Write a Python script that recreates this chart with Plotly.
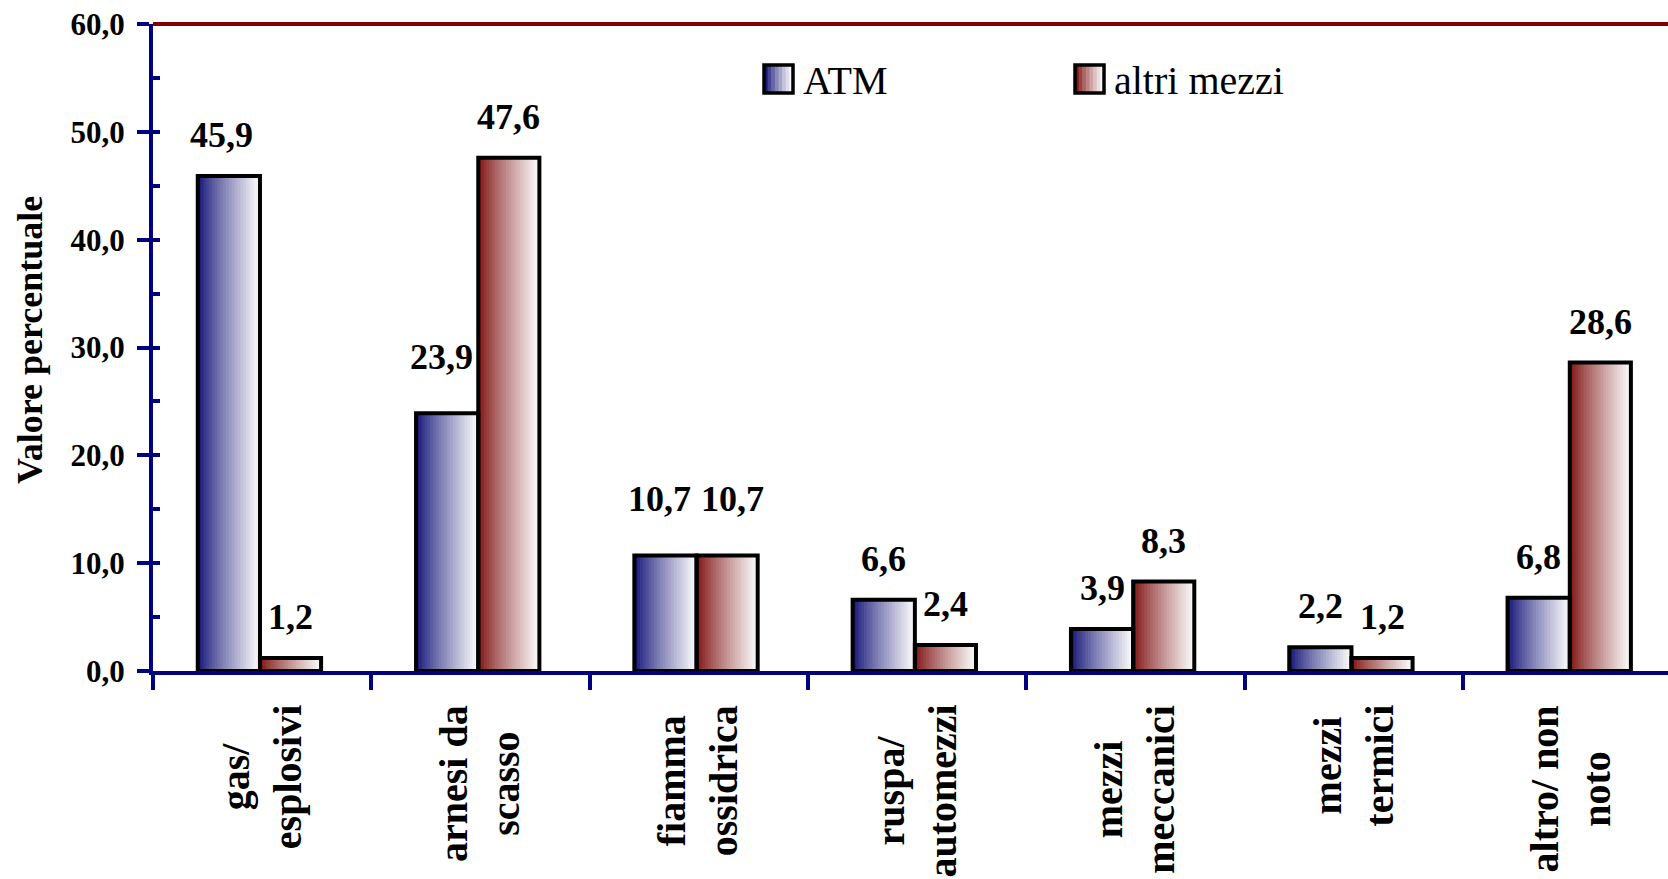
import plotly.graph_objects as go

# dati
categorie = ["gas/ esplosivi", "arnesi da scasso", "fiamma ossidrica", "ruspa/ automezzi",
             "mezzi meccanici", "mezzi termici", "altro/ non noto"]
etichette = ["gas/<br>esplosivi", "arnesi da<br>scasso", "fiamma<br>ossidrica", "ruspa/<br>automezzi",
             "mezzi<br>meccanici", "mezzi<br>termici", "altro/ non<br>noto"]
atm = [45.9, 23.9, 10.7, 6.6, 3.9, 2.2, 6.8]
altri_mezzi = [1.2, 47.6, 10.7, 2.4, 8.3, 1.2, 28.6]
serie = [("ATM", atm), ("altri mezzi", altri_mezzi)]
tick_y = [0, 10, 20, 30, 40, 50, 60]

W, H = 1668, 879
L, T, B = 153, 24, 208
plot_w = W - L
plot_h = H - T - B
cat_px = 218.3

FONT = "Liberation Serif, Times New Roman, serif"
NAVY = "#000080"
stile = {
    "ATM": {"start": (24, 24, 122), "offset": -0.295, "width": 0.285},
    "altri mezzi": {"start": (130, 22, 22), "offset": -0.01, "width": 0.28},
}
N_STRISCE = 22

# piccoli spostamenti (px) delle etichette che nell'originale sono scostate
spostamenti = {
    ("ATM", "gas/ esplosivi"): (-7, 0),
    ("ATM", "arnesi da scasso"): (-6, 15),
    ("ATM", "fiamma ossidrica"): (-6, 16),
    ("altri mezzi", "fiamma ossidrica"): (5, 16),
}


def sfuma(start, t):
    t = t ** 0.85
    c = [round(s + (250 - s) * t) for s in start]
    return f"rgb({c[0]},{c[1]},{c[2]})"


def px_x(px):
    return (px - L) / plot_w


def px_y(py):
    return (H - B - py) / plot_h


fig = go.Figure()

# riempimento sfumato: strisce verticali sovrapposte
for nome, valori in serie:
    s = stile[nome]
    passo = s["width"] / N_STRISCE
    for k in range(N_STRISCE):
        fig.add_trace(go.Bar(
            x=categorie, y=valori,
            offset=s["offset"] + k * passo,
            width=passo * (1.5 if k < N_STRISCE - 1 else 1.0),
            marker=dict(color=sfuma(s["start"], k / (N_STRISCE - 1)), line_width=0),
            showlegend=False, hoverinfo="skip",
        ))

# contorni neri
for nome, valori in serie:
    s = stile[nome]
    fig.add_trace(go.Bar(
        x=categorie, y=valori, name=nome,
        offset=s["offset"], width=s["width"],
        marker=dict(color="rgba(0,0,0,0)", line=dict(color="black", width=4)),
        showlegend=False,
    ))

annotazioni = []
# etichette dei valori
for nome, valori in serie:
    s = stile[nome]
    centro = (s["offset"] + s["width"] / 2) * cat_px
    for c, v in zip(categorie, valori):
        dx, dy = spostamenti.get((nome, c), (0, 0))
        annotazioni.append(dict(
            x=c, y=v, xref="x", yref="y", text=f"{v:.1f}".replace(".", ","),
            showarrow=False, yanchor="bottom", xshift=centro + dx, yshift=19 + dy,
            font=dict(family=FONT, size=36, color="black", weight="bold"),
        ))

# etichette delle categorie (ruotate)
for c, lab in zip(categorie, etichette):
    annotazioni.append(dict(
        x=c, y=0, xref="x", yref="paper", text=lab, textangle=-90,
        showarrow=False, yanchor="top", xanchor="center", align="center",
        yshift=-32, xshift=-1,
        font=dict(family=FONT, size=40, color="black", weight="bold"),
    ))

# titolo asse y
annotazioni.append(dict(
    x=px_x(30), y=px_y(340), xref="paper", yref="paper", text="Valore percentuale",
    textangle=-90, showarrow=False, xanchor="center", yanchor="middle",
    font=dict(family=FONT, size=36, color="black", weight="bold"),
))

# legenda disegnata a mano
legenda = [("ATM", 764), ("altri mezzi", 1075)]
forme = []
for nome, x0 in legenda:
    x1 = x0 + 29
    y0, y1 = 65, 93
    n = 8
    for k in range(n):
        a = x0 + (x1 - x0) * k / n
        b = x0 + (x1 - x0) * (k + 1) / n
        forme.append(dict(type="rect", xref="paper", yref="paper",
                          x0=px_x(a), x1=px_x(b + 0.6), y0=px_y(y1), y1=px_y(y0),
                          fillcolor=sfuma(stile[nome]["start"], k / (n - 1)),
                          line_width=0))
    forme.append(dict(type="rect", xref="paper", yref="paper",
                      x0=px_x(x0), x1=px_x(x1), y0=px_y(y1), y1=px_y(y0),
                      line=dict(color="black", width=3.5)))
    annotazioni.append(dict(
        x=px_x(x1 + 8), y=px_y(80), xref="paper", yref="paper", text=nome,
        showarrow=False, xanchor="left", yanchor="middle",
        font=dict(family=FONT, size=40, color="black"),
    ))

# linea rossa in alto (bordo superiore dell'area)
forme.append(dict(type="line", xref="paper", yref="paper", x0=0, x1=1, y0=1, y1=1,
                  line=dict(color="#800000", width=4), layer="below"))

fig.update_layout(
    width=W, height=H,
    margin=dict(l=L, r=0, t=T, b=B),
    paper_bgcolor="white", plot_bgcolor="white",
    barmode="overlay",
    separators=",.",
    showlegend=False,
    shapes=forme,
    annotations=annotazioni,
    xaxis=dict(
        range=[-0.5, -0.5 + plot_w / cat_px],
        showline=True, linecolor=NAVY, linewidth=4,
        ticks="outside", tickson="boundaries", ticklen=15, tickwidth=4, tickcolor=NAVY,
        showticklabels=False, showgrid=False, zeroline=False,
    ),
    yaxis=dict(
        range=[0, 60], tickvals=tick_y, tickformat=".1f",
        showline=True, linecolor=NAVY, linewidth=4,
        ticks="outside", ticklen=12, tickwidth=4, tickcolor=NAVY,
        ticklabelstandoff=6,
        tickfont=dict(family=FONT, size=31, color="black", weight="bold"),
        showgrid=False, zeroline=False,
    ),
    yaxis2=dict(
        range=[0, 60], dtick=5, overlaying="y", side="left",
        ticks="inside", ticklen=7, tickwidth=4, tickcolor=NAVY,
        showticklabels=False, showline=False, showgrid=False, zeroline=False,
    ),
)
fig.add_trace(go.Scatter(x=[categorie[0]], y=[0], yaxis="y2", mode="none",
                         showlegend=False, hoverinfo="skip"))

fig.write_html("out.html", config={"displayModeBar": False},
               post_script="document.body.style.margin='0';")
